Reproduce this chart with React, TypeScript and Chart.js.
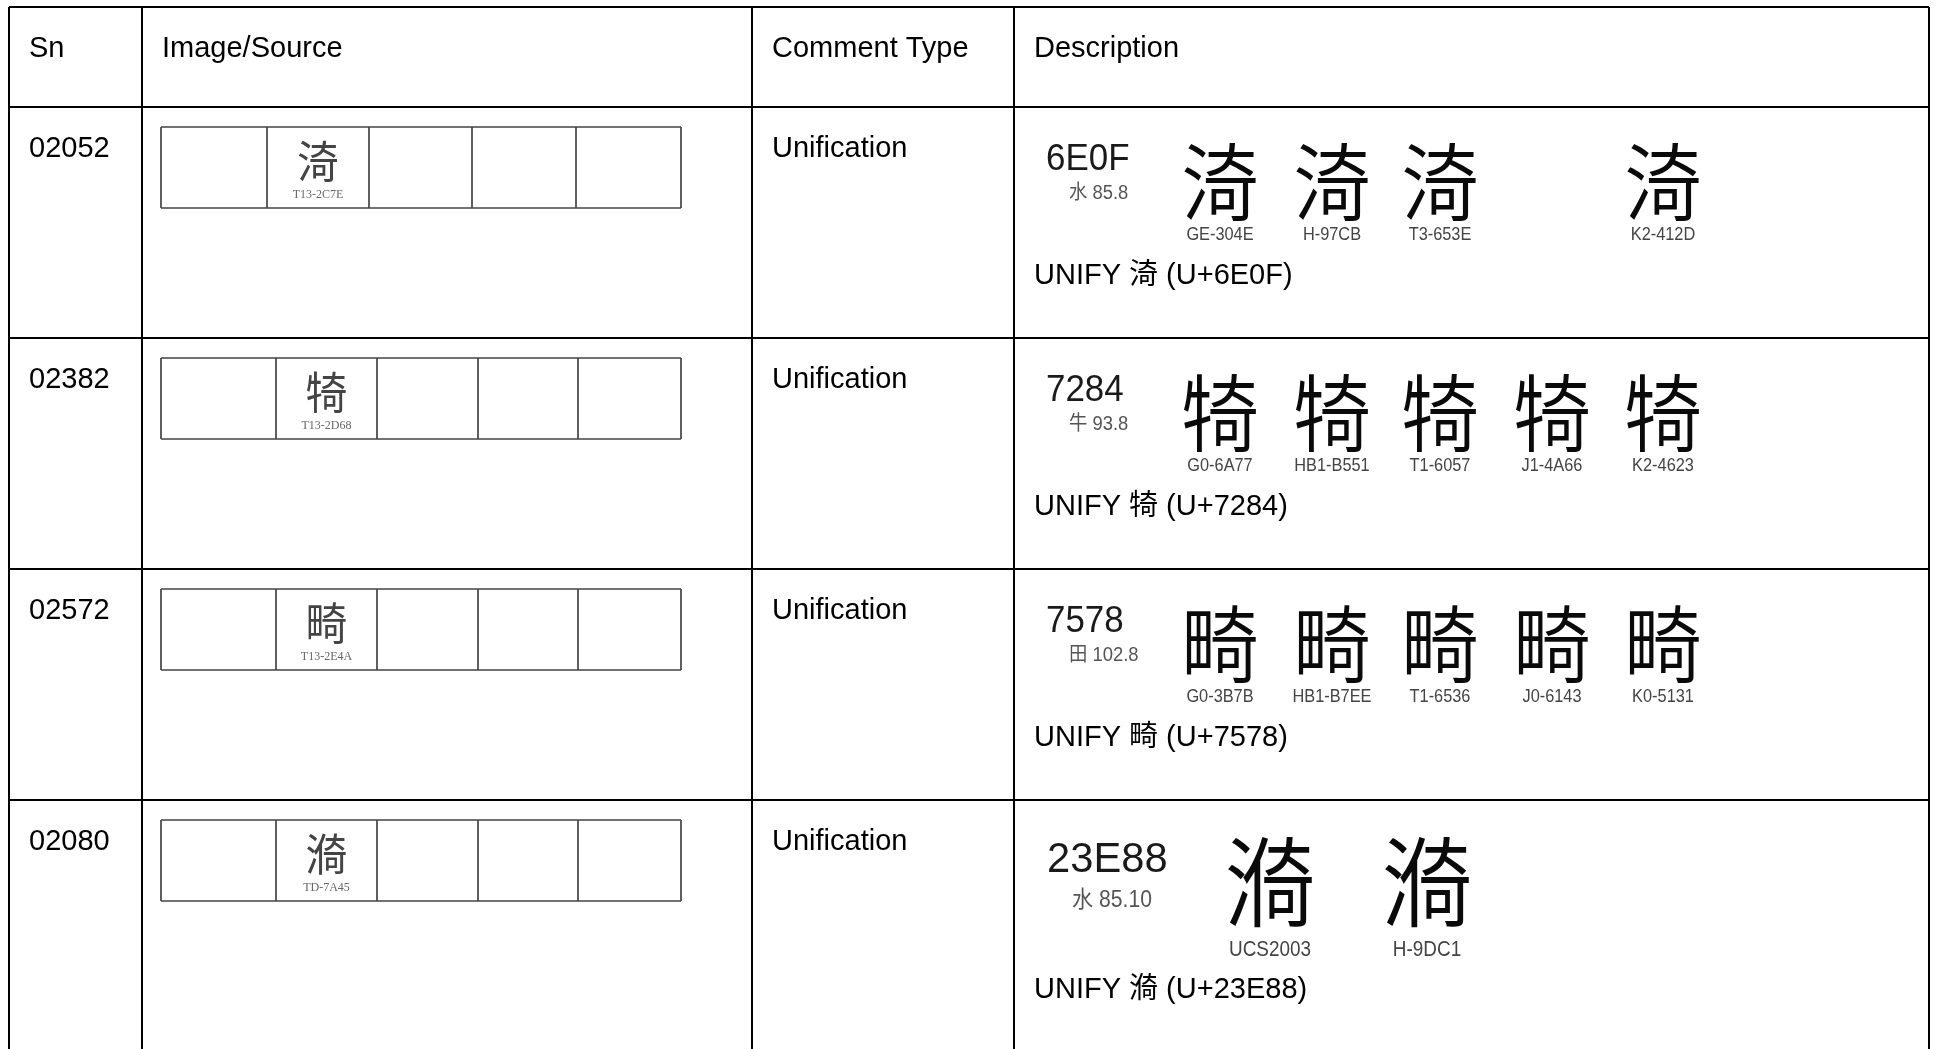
import React, { useEffect, useRef } from "react";
import { Chart, registerables } from "chart.js";

Chart.register(...registerables);

// ---------- data ----------
const HEADERS = ["Sn", "Image/Source", "Comment Type", "Description"];
const SERIAL_NUMBERS = ["02052", "02382", "02572", "02080"];
const COMMENT_TYPES = ["Unification", "Unification", "Unification", "Unification"];
const CODE_POINTS = ["6E0F", "7284", "7578", "23E88"];
const CHARACTERS = ["渏", "犄", "畸", "𣺈"];
const RADICAL_STROKES = ["水 85.8", "牛 93.8", "田 102.8", "水 85.10"];
const SUBMITTED_SOURCES = ["T13-2C7E", "T13-2D68", "T13-2E4A", "TD-7A45"];
const EVIDENCE_ROW_1 = ["GE-304E", "H-97CB", "T3-653E", "", "K2-412D"];
const EVIDENCE_ROW_2 = ["G0-6A77", "HB1-B551", "T1-6057", "J1-4A66", "K2-4623"];
const EVIDENCE_ROW_3 = ["G0-3B7B", "HB1-B7EE", "T1-6536", "J0-6143", "K0-5131"];
const EVIDENCE_ROW_4 = ["UCS2003", "H-9DC1"];
const EVIDENCE = [EVIDENCE_ROW_1, EVIDENCE_ROW_2, EVIDENCE_ROW_3, EVIDENCE_ROW_4];

// ---------- layout (reference pixel units) ----------
const CANVAS_W = 1937;
const CANVAS_H = 1049;
const COL_EDGES = [9, 142, 752, 1014, 1929];
const ROW_EDGES = [7, 107, 338, 569, 800];
const SUBCELL_EDGES = [
  [161, 267, 369, 472, 576, 681],
  [161, 276, 377, 478, 578, 681],
  [161, 276, 377, 478, 578, 681],
  [161, 276, 377, 478, 578, 681],
];
const BODY_FONT = '"Liberation Sans", Arial, "Noto Sans CJK TC", sans-serif';
const CJK_FONT = '"Noto Sans CJK TC", "Noto Sans CJK SC", sans-serif';

// description block geometry per row (relative to row top)
const DESC_NORMAL = {
  codeX: 1046, codeY: 63, codeSize: 36,
  radX: 1069, radY: 92, radSize: 20,
  glyphXs: [1220, 1332, 1440, 1552, 1663], glyphY: 75, glyphSize: 84,
  labelY: 133, labelSize: 19,
  unifyY: 177,
};
const DESC_LARGE = {
  codeX: 1047, codeY: 72, codeSize: 43,
  radX: 1072, radY: 107, radSize: 23,
  glyphXs: [1270, 1427], glyphY: 82, glyphSize: 98,
  labelY: 156, labelSize: 22,
  unifyY: 198,
};
const DESC_LAYOUT = [DESC_NORMAL, DESC_NORMAL, DESC_NORMAL, DESC_LARGE];

const tablePlugin = {
  id: "tableText",
  afterDraw(chart: any) {
    const ctx: CanvasRenderingContext2D = chart.ctx;
    const xs = chart.scales.x;
    const ys = chart.scales.y;
    const px = (v: number) => xs.getPixelForValue(v);
    const py = (v: number) => ys.getPixelForValue(v);

    const text = (
      s: string, x: number, y: number, font: string, color: string,
      align: CanvasTextAlign = "left", baseline: CanvasTextBaseline = "alphabetic", sx = 1
    ) => {
      ctx.save();
      ctx.font = font;
      ctx.fillStyle = color;
      ctx.textAlign = align;
      ctx.textBaseline = baseline;
      ctx.translate(px(x), py(y));
      ctx.scale(sx, 1);
      ctx.fillText(s, 0, 0);
      ctx.restore();
    };

    // header
    HEADERS.forEach((h, i) => {
      text(h, COL_EDGES[i] + 20, ROW_EDGES[0] + 50, `29px ${BODY_FONT}`, "#000");
    });

    SERIAL_NUMBERS.forEach((sn, r) => {
      const top = ROW_EDGES[r + 1];
      text(sn, COL_EDGES[0] + 20, top + 50, `29px ${BODY_FONT}`, "#000");
      text(COMMENT_TYPES[r], COL_EDGES[2] + 20, top + 50, `29px ${BODY_FONT}`, "#000");

      // image/source strip
      const edges = SUBCELL_EDGES[r];
      const bTop = top + 20;
      const bBot = top + 101;
      ctx.save();
      ctx.strokeStyle = "#444";
      ctx.lineWidth = 1.7;
      ctx.beginPath();
      ctx.moveTo(px(edges[0]), py(bTop));
      ctx.lineTo(px(edges[edges.length - 1]), py(bTop));
      ctx.moveTo(px(edges[0]), py(bBot));
      ctx.lineTo(px(edges[edges.length - 1]), py(bBot));
      edges.forEach((e) => {
        ctx.moveTo(px(e), py(bTop));
        ctx.lineTo(px(e), py(bBot));
      });
      ctx.stroke();
      ctx.restore();
      const cx = (edges[1] + edges[2]) / 2;
      text(CHARACTERS[r], cx, bTop + 34, `44px ${CJK_FONT}`, "#444", "center", "middle", 0.95);
      text(SUBMITTED_SOURCES[r], cx, bTop + 71, `12px "Liberation Serif", serif`, "#666", "center");

      // description
      const d = DESC_LAYOUT[r];
      text(CODE_POINTS[r], d.codeX, top + d.codeY, `${d.codeSize}px ${BODY_FONT}`, "#1a1a1a", "left", "alphabetic", 0.97);
      text(RADICAL_STROKES[r], d.radX, top + d.radY, `${d.radSize}px ${BODY_FONT}`, "#555", "left", "alphabetic", 0.92);
      EVIDENCE[r].forEach((lab, k) => {
        if (!lab) return;
        const gx = d.glyphXs[k];
        text(CHARACTERS[r], gx, top + d.glyphY, `350 ${d.glyphSize}px ${CJK_FONT}`, "#0a0a0a", "center", "middle", 0.93);
        text(lab, gx, top + d.labelY, `${d.labelSize}px ${BODY_FONT}`, "#444", "center", "alphabetic", 0.86);
      });
      text(`UNIFY ${CHARACTERS[r]} (U+${CODE_POINTS[r]})`, COL_EDGES[3] + 20, top + d.unifyY, `29px ${BODY_FONT}`, "#000");
    });
  },
};

export default function App() {
  const canvasRef = useRef<HTMLCanvasElement | null>(null);

  useEffect(() => {
    document.body.style.margin = "0";
    document.body.style.overflow = "hidden";
    const canvas = canvasRef.current;
    if (!canvas) return;
    const chart = new Chart(canvas, {
      type: "scatter",
      data: { datasets: [] },
      options: {
        animation: false,
        responsive: false,
        maintainAspectRatio: false,
        devicePixelRatio: 1,
        layout: { padding: { left: COL_EDGES[0], top: ROW_EDGES[0], right: CANVAS_W - COL_EDGES[COL_EDGES.length - 1], bottom: 0 } },
        plugins: { legend: { display: false }, tooltip: { enabled: false }, title: { display: false } },
        scales: {
          x: {
            type: "linear",
            min: COL_EDGES[0],
            max: COL_EDGES[COL_EDGES.length - 1],
            border: { display: false },
            ticks: { display: false },
            grid: { color: "#000", lineWidth: 2, drawTicks: false },
            afterBuildTicks: (axis: any) => {
              axis.ticks = COL_EDGES.map((v) => ({ value: v }));
            },
          },
          y: {
            type: "linear",
            reverse: true,
            min: ROW_EDGES[0],
            max: CANVAS_H,
            border: { display: false },
            ticks: { display: false },
            grid: { color: "#000", lineWidth: 2, drawTicks: false },
            afterBuildTicks: (axis: any) => {
              axis.ticks = ROW_EDGES.map((v) => ({ value: v }));
            },
          },
        },
      },
      plugins: [tablePlugin],
    });
    return () => chart.destroy();
  }, []);

  return (
    <div style={{ width: CANVAS_W, height: CANVAS_H, background: "#fff" }}>
      <canvas ref={canvasRef} width={CANVAS_W} height={CANVAS_H} style={{ display: "block" }} />
    </div>
  );
}
